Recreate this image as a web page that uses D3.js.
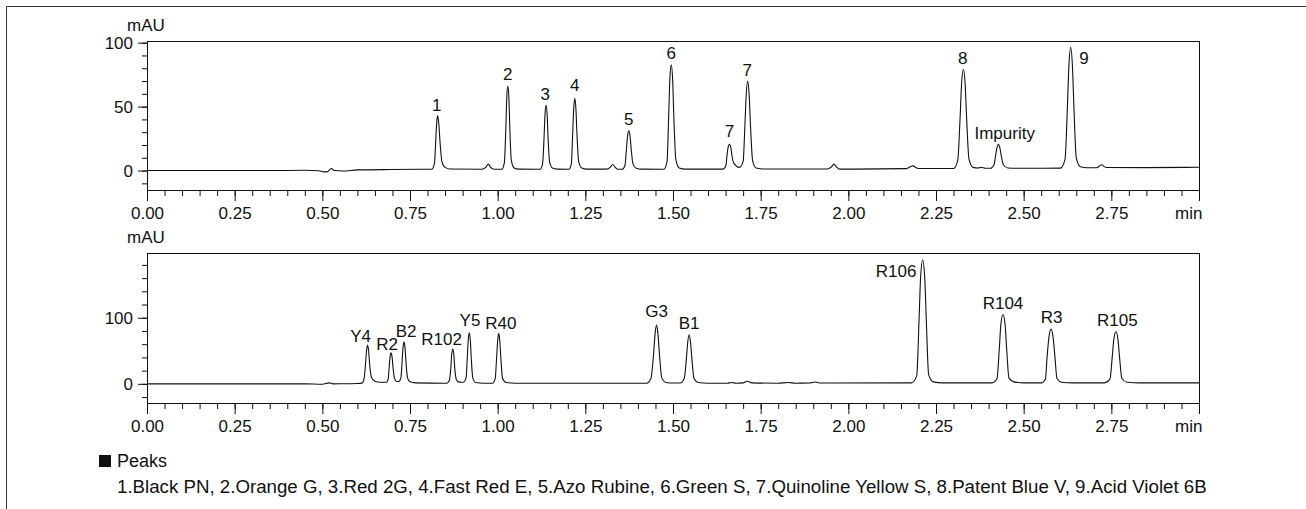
<!DOCTYPE html>
<html>
<head>
<meta charset="utf-8">
<script src="https://cdn.jsdelivr.net/npm/d3@7"></script>
<style>
    body { margin: 0; background: #fff; }
    svg { display: block; font-family: "Liberation Sans", Arial, sans-serif; }
</style>
</head>
<body>
<div id="chart"></div>
<script>
// Trace points: [time (min), signal (mAU)]
const topTrace = [
    [0, 0], [0.35, 0], [0.45, 0.2], [0.49, -0.2], [0.505, -1], [0.515, -0.8], [0.525, 1.6], [0.535, 0],
    [0.56, -0.3], [0.6, 0.5], [0.7, 0.8], [0.8, 1],
    [0.812, 1], [0.820, 6], [0.823, 21], [0.826, 37], [0.829, 43], [0.832, 37], [0.836, 21], [0.841, 7], [0.850, 2.5], [0.865, 1.2],
    [0.955, 1], [0.966, 2.5], [0.973, 5], [0.980, 2.5], [0.990, 1],
    [1.012, 1], [1.019, 6], [1.0233, 33], [1.026, 57], [1.029, 66], [1.032, 57], [1.0347, 33], [1.039, 8], [1.047, 2], [1.06, 1.1],
    [1.121, 1], [1.128, 5], [1.1323, 26], [1.135, 44], [1.138, 51], [1.141, 44], [1.1437, 26], [1.148, 7], [1.156, 2], [1.17, 1.1],
    [1.203, 1], [1.210, 5], [1.2138, 28], [1.217, 49], [1.220, 56.5], [1.223, 49], [1.2262, 28], [1.231, 7], [1.240, 2], [1.255, 1.1],
    [1.31, 1.1], [1.321, 2.5], [1.328, 4.7], [1.335, 2.6], [1.343, 1],
    [1.355, 1], [1.363, 4], [1.367, 16], [1.3705, 27], [1.374, 31], [1.3775, 27], [1.381, 16], [1.386, 5], [1.395, 1.8], [1.41, 1.1],
    [1.474, 1], [1.483, 7], [1.4875, 41], [1.491, 71], [1.495, 82.6], [1.499, 71], [1.5025, 41], [1.508, 9], [1.518, 2], [1.535, 1.1],
    [1.642, 1.1], [1.651, 4], [1.6535, 10.5], [1.657, 18], [1.661, 20.6], [1.665, 18], [1.6685, 11], [1.673, 6],
    [1.689, 2.5], [1.700, 7], [1.705, 35], [1.709, 60], [1.713, 70], [1.717, 60], [1.721, 35], [1.727, 8], [1.737, 2], [1.76, 1.2],
    [1.94, 1.2], [1.952, 3], [1.959, 5], [1.966, 3], [1.975, 1.1],
    [2.165, 1.5], [2.183, 3.7], [2.20, 1.6],
    [2.300, 1.6], [2.312, 8], [2.3185, 40], [2.323, 68], [2.328, 79.2], [2.333, 68], [2.3375, 40], [2.344, 9], [2.356, 2.5], [2.37, 2],
    [2.380, 2.6], [2.39, 1.8],
    [2.405, 1.8], [2.416, 5], [2.4195, 11], [2.424, 18], [2.428, 20.6], [2.432, 18], [2.4365, 11], [2.442, 4.5], [2.455, 2], [2.48, 1.8],
    [2.605, 1.9], [2.618, 9], [2.6245, 48], [2.629, 82], [2.634, 96.4], [2.639, 82], [2.6435, 48], [2.650, 10], [2.662, 3], [2.68, 2.2],
    [2.708, 2.2], [2.722, 4.5], [2.735, 2.4],
    [2.85, 2.3], [3.0, 2.6]
];

const bottomTrace = [
    [0, 0], [0.45, 0], [0.50, -0.6], [0.52, 1.5], [0.53, 0], [0.58, 0.2],
    [0.60, 0.5], [0.614, 1.5], [0.619, 8], [0.623, 29], [0.626, 50], [0.629, 58.6], [0.632, 50], [0.635, 29], [0.64, 10], [0.65, 4], [0.665, 2.5],
    [0.683, 2.5], [0.688, 8], [0.6903, 24], [0.693, 40], [0.696, 47], [0.699, 40], [0.7017, 24], [0.706, 8], [0.712, 3.5],
    [0.718, 3.5], [0.724, 9], [0.7273, 32], [0.730, 54], [0.733, 63.6], [0.736, 54], [0.7387, 32], [0.743, 9], [0.75, 3], [0.765, 1.5], [0.85, 1],
    [0.855, 1], [0.862, 5], [0.8667, 26], [0.869, 45], [0.872, 52.6], [0.875, 45], [0.8773, 26], [0.882, 7], [0.888, 3], [0.896, 2.5],
    [0.902, 2.5], [0.91, 9], [0.9133, 39], [0.916, 66], [0.919, 77.3], [0.922, 66], [0.9247, 39], [0.929, 9], [0.937, 2], [0.96, 1],
    [0.985, 1], [0.993, 8], [0.9968, 38], [1.0, 65], [1.003, 76.3], [1.006, 65], [1.0092, 38], [1.014, 8], [1.024, 2], [1.05, 1],
    [1.3, 1], [1.42, 1],
    [1.425, 1], [1.437, 8], [1.4445, 44], [1.449, 76], [1.453, 88.9], [1.457, 76], [1.4615, 44], [1.468, 9], [1.48, 2], [1.50, 1.2],
    [1.520, 1.2], [1.532, 8], [1.538, 37], [1.542, 63], [1.546, 74.2], [1.550, 63], [1.554, 37], [1.560, 8], [1.572, 2], [1.60, 1],
    [1.655, 1], [1.667, 2], [1.68, 1], [1.70, 1.5], [1.712, 4], [1.725, 1.5], [1.80, 1], [1.828, 2], [1.85, 1], [1.89, 1.2], [1.905, 2.8], [1.92, 1.2],
    [2.18, 1.5], [2.195, 12], [2.2015, 94], [2.206, 160], [2.212, 187.4], [2.218, 160], [2.2225, 94], [2.229, 14], [2.242, 3], [2.27, 1.5],
    [2.41, 1.5], [2.424, 8], [2.4305, 53], [2.435, 90], [2.441, 105], [2.447, 90], [2.4515, 53], [2.458, 9], [2.472, 3], [2.50, 1.5],
    [2.55, 1.5], [2.562, 7], [2.567, 42], [2.572, 70], [2.578, 82.8], [2.584, 70], [2.589, 42], [2.595, 8], [2.608, 2.5], [2.64, 1.5],
    [2.73, 1.5], [2.746, 7], [2.7525, 40], [2.757, 67], [2.763, 78.8], [2.769, 67], [2.7735, 40], [2.780, 8], [2.795, 2.5], [2.83, 1.5], [3.0, 1.5]
];

// Peak labels: [text, time, mAU] (label centre in data units)
const topLabels = [
    ['1', 0.826, 51.3], ['2', 1.029, 75.5], ['3', 1.136, 59.9], ['4', 1.220, 67],
    ['5', 1.374, 40.2], ['6', 1.495, 91.7], ['7', 1.661, 31], ['7', 1.712, 78.7],
    ['8', 2.326, 87.8], ['Impurity', 2.446, 29.7], ['9', 2.672, 87.8]
];
const bottomLabels = [
    ['Y4', 0.609, 72.3], ['R2', 0.685, 60.2], ['B2', 0.739, 79.8], ['R102', 0.840, 67.3],
    ['Y5', 0.921, 96.5], ['R40', 1.009, 91.5], ['G3', 1.453, 110.2], ['B1', 1.546, 91.5],
    ['R106', 2.136, 170.8], ['R104', 2.441, 121.8], ['R3', 2.580, 100.6], ['R105', 2.767, 96.5]
];

const xMajor = [0, 0.25, 0.5, 0.75, 1, 1.25, 1.5, 1.75, 2, 2.25, 2.5, 2.75, 3];
const xMinor = d3.range(0, 61).map(i => i * 0.05);
const topYMajor = [0, 50, 100];
const topYMinor = [-10, 0, 10, 20, 30, 40, 50, 60, 70, 80, 90, 100];
const bottomYMajor = [0, 100];
const bottomYMinor = [-20, 0, 20, 40, 60, 80, 100, 120, 140, 160, 180];
const peakTitle = 'Peaks';
const peakNames = '1.Black PN, 2.Orange G, 3.Red 2G, 4.Fast Red E, 5.Azo Rubine, 6.Green S, 7.Quinoline Yellow S, 8.Patent Blue V, 9.Acid Violet 6B';

const width = 1306, height = 509;
const left = 147, right = 1199;
const ink = '#111';

const svg = d3.select('#chart').append('svg')
    .attr('width', width)
    .attr('height', height);

svg.append('rect').attr('width', width).attr('height', height).attr('fill', '#fff');

// outer frame (top + left edges visible)
svg.append('path')
    .attr('d', `M6.5,${height} V6.5 H${width}`)
    .attr('fill', 'none')
    .attr('stroke', '#333')
    .attr('stroke-width', 1);

const x = d3.scaleLinear().domain([0, 3]).range([left, right]);

function drawPanel(opts) {
    const {top, bottom, yDomain, yMajor, yMinor, trace, labels} = opts;
    const y = d3.scaleLinear().domain(yDomain).range([bottom, top]);
    const g = svg.append('g');

    // minor y ticks
    g.append('g')
        .attr('transform', `translate(${left},0)`)
        .call(d3.axisLeft(y).tickValues(yMinor).tickSize(5).tickFormat(''))
        .call(a => a.select('.domain').remove())
        .call(a => a.selectAll('line').attr('stroke', ink));

    // major y ticks
    g.append('g')
        .attr('transform', `translate(${left},0)`)
        .call(d3.axisLeft(y).tickValues(yMajor).tickSize(9).tickPadding(5).tickFormat(d3.format('d')))
        .call(a => a.select('.domain').remove())
        .call(a => a.selectAll('line').attr('stroke', ink))
        .call(a => a.selectAll('text').attr('font-size', '17px').attr('fill', ink)
            .attr('font-family', '"Liberation Sans", Arial, sans-serif'));

    // minor x ticks
    g.append('g')
        .attr('transform', `translate(0,${bottom})`)
        .call(d3.axisBottom(x).tickValues(xMinor).tickSize(6).tickFormat(''))
        .call(a => a.select('.domain').remove())
        .call(a => a.selectAll('line').attr('stroke', ink));

    // major x ticks
    g.append('g')
        .attr('transform', `translate(0,${bottom})`)
        .call(d3.axisBottom(x).tickValues(xMajor).tickSize(11).tickPadding(6)
            .tickFormat(d => d === 3 ? 'min' : d3.format('.2f')(d)))
        .call(a => a.select('.domain').remove())
        .call(a => a.selectAll('line').attr('stroke', ink))
        .call(a => a.selectAll('text').attr('font-size', '17px').attr('fill', ink)
            .attr('font-family', '"Liberation Sans", Arial, sans-serif'))
        .call(a => a.selectAll('.tick').filter(d => d === 3).select('text')
            .attr('text-anchor', 'end').attr('dx', '3px'));

    // plot frame
    g.append('rect')
        .attr('x', left + 0.5)
        .attr('y', top + 0.5)
        .attr('width', right - left)
        .attr('height', bottom - top)
        .attr('fill', 'none')
        .attr('stroke', ink)
        .attr('stroke-width', 1);

    // y unit
    g.append('text')
        .attr('x', 127)
        .attr('y', top - 10)
        .attr('font-size', '17px')
        .attr('fill', ink)
        .text('mAU');

    // trace
    const line = d3.line()
        .x(d => x(d[0]))
        .y(d => y(d[1]))
        .curve(d3.curveMonotoneX);

    g.append('path')
        .datum(trace)
        .attr('fill', 'none')
        .attr('stroke', ink)
        .attr('stroke-width', 1.1)
        .attr('stroke-linejoin', 'round')
        .attr('d', line);

    // peak labels
    g.selectAll('text.peak')
        .data(labels)
        .enter()
        .append('text')
        .attr('class', 'peak')
        .attr('x', d => x(d[1]))
        .attr('y', d => y(d[2]))
        .attr('dy', '0.36em')
        .attr('text-anchor', 'middle')
        .attr('font-size', '17px')
        .attr('fill', ink)
        .text(d => d[0]);
}

drawPanel({
    top: 41, bottom: 190, yDomain: [-15.2, 101.3],
    yMajor: topYMajor, yMinor: topYMinor, trace: topTrace, labels: topLabels
});

drawPanel({
    top: 253, bottom: 403, yDomain: [-29, 198],
    yMajor: bottomYMajor, yMinor: bottomYMinor, trace: bottomTrace, labels: bottomLabels
});

// peak legend
svg.append('rect')
    .attr('x', 99)
    .attr('y', 455)
    .attr('width', 12)
    .attr('height', 12)
    .attr('fill', ink);

svg.append('text')
    .attr('x', 117)
    .attr('y', 467)
    .attr('font-size', '18px')
    .attr('fill', ink)
    .text(peakTitle);

svg.append('text')
    .attr('x', 117)
    .attr('y', 493)
    .attr('font-size', '18.7px')
    .attr('fill', ink)
    .text(peakNames);
</script>
</body>
</html>
